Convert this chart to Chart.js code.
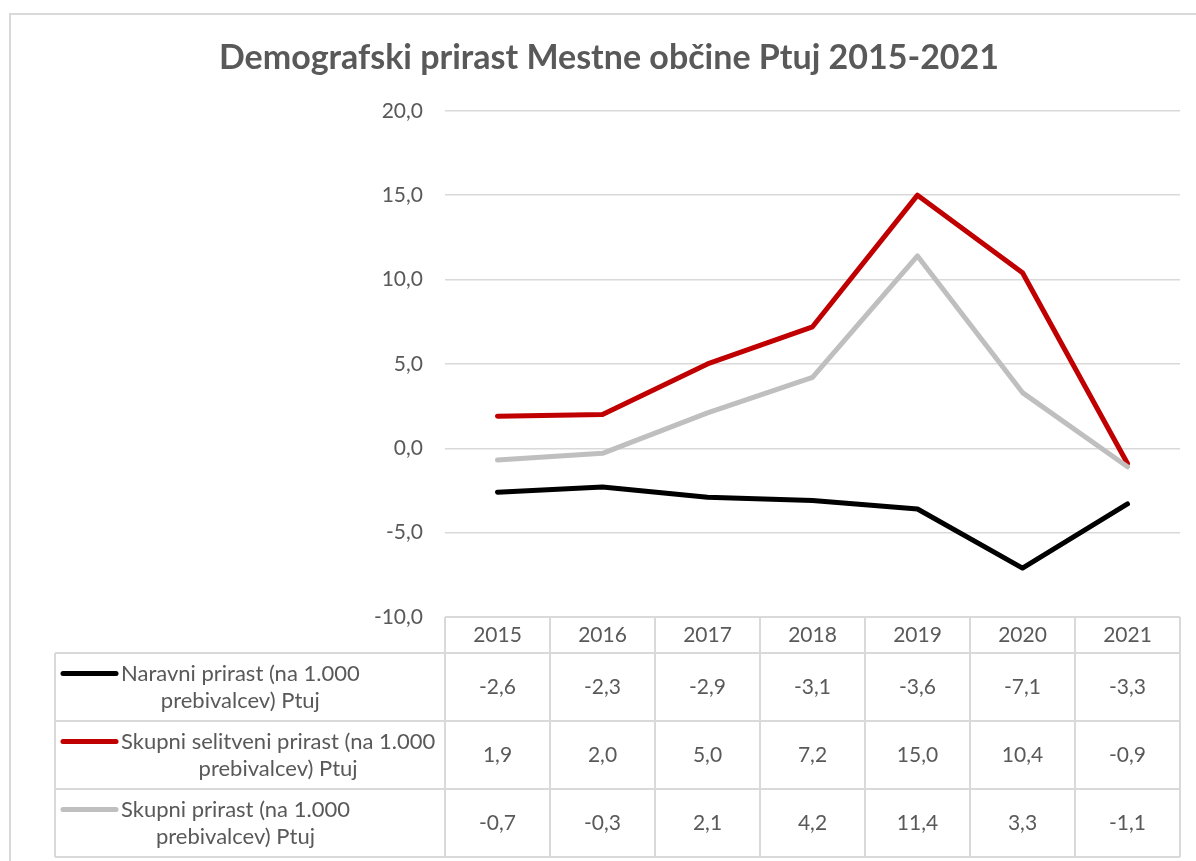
<!DOCTYPE html>
<html>
<head>
<meta charset="utf-8">
<script src="https://cdn.jsdelivr.net/npm/chart.js@4"></script>
<style>
  html, body { margin: 0; padding: 0; background: #ffffff; }
  #wrap { width: 1196px; height: 861px; position: relative; }
</style>
</head>
<body>
<div id="wrap"><canvas id="c" width="1196" height="861"></canvas></div>
<script>
const chartTitle = 'Demografski prirast Mestne občine Ptuj 2015-2021';
const years = ['2015', '2016', '2017', '2018', '2019', '2020', '2021'];
const naravniPrirast = [-2.6, -2.3, -2.9, -3.1, -3.6, -7.1, -3.3];
const selitveniPrirast = [1.9, 2.0, 5.0, 7.2, 15.0, 10.4, -0.9];
const skupniPrirast = [-0.7, -0.3, 2.1, 4.2, 11.4, 3.3, -1.1];
const seriesNames = [
  'Naravni prirast (na 1.000 prebivalcev) Ptuj',
  'Skupni selitveni prirast (na 1.000 prebivalcev) Ptuj',
  'Skupni prirast (na 1.000 prebivalcev) Ptuj'
];
const seriesNameLines = [
  ['Naravni prirast (na 1.000', 'prebivalcev) Ptuj'],
  ['Skupni selitveni prirast (na 1.000', 'prebivalcev) Ptuj'],
  ['Skupni prirast (na 1.000', 'prebivalcev) Ptuj']
];
const yTicks = { min: -10, max: 20, step: 5 };

const FONT = 'Lato, "Open Sans", "Noto Sans", sans-serif';
const TEXT = '#595959';
const GRID = '#d9d9d9';
const fmt = v => v.toFixed(1).replace('.', ',');

const frame = {
  id: 'frame',
  beforeDraw(chart) {
    const ctx = chart.ctx;
    ctx.save();
    ctx.fillStyle = '#ffffff';
    ctx.fillRect(0, 0, chart.width, chart.height);
    ctx.strokeStyle = GRID;
    ctx.lineWidth = 2;
    ctx.beginPath();
    ctx.moveTo(10, chart.height + 5);
    ctx.lineTo(10, 14);
    ctx.lineTo(chart.width + 5, 14);
    ctx.stroke();
    ctx.restore();
  }
};

const dataTable = {
  id: 'dataTable',
  afterDraw(chart) {
    const ctx = chart.ctx;
    const x = chart.scales.x;
    const area = chart.chartArea;
    const n = years.length;
    const step = (area.right - area.left) / n;
    const top = area.bottom;
    const headerH = 36;
    const rowH = 68;
    const legendLeft = 55;
    const rowsTop = top + headerH;
    const bottom = rowsTop + rowH * chart.data.datasets.length;
    ctx.save();
    ctx.strokeStyle = GRID;
    ctx.lineWidth = 2;
    ctx.beginPath();
    ctx.moveTo(area.left, top); ctx.lineTo(area.right, top);
    for (let r = 0; r <= chart.data.datasets.length; r++) {
      const y = rowsTop + r * rowH;
      ctx.moveTo(legendLeft, y); ctx.lineTo(area.right, y);
    }
    for (let i = 0; i <= n; i++) {
      const px = i < n ? x.getPixelForValue(i) - step / 2 : x.getPixelForValue(n - 1) + step / 2;
      ctx.moveTo(px, top); ctx.lineTo(px, bottom);
    }
    ctx.moveTo(legendLeft, rowsTop); ctx.lineTo(legendLeft, bottom);
    ctx.stroke();

    ctx.fillStyle = TEXT;
    ctx.font = '21px ' + FONT;
    ctx.textAlign = 'center';
    ctx.textBaseline = 'middle';
    years.forEach((yr, i) => {
      ctx.fillText(yr, x.getPixelForValue(i), top + headerH / 2);
    });
    [0, 1, 2].forEach((d, r) => {
      const ds = chart.data.datasets[d];
      const cy = rowsTop + r * rowH + rowH / 2;
      ctx.font = '21px ' + FONT;
      ds.data.forEach((v, i) => {
        ctx.fillStyle = TEXT;
        ctx.fillText(fmt(v), x.getPixelForValue(i), cy);
      });
      const lines = seriesNameLines[d];
      const lh = 27;
      const y1 = cy - lh / 2;
      ctx.strokeStyle = ds.borderColor;
      ctx.lineWidth = 5;
      ctx.lineCap = 'round';
      ctx.beginPath();
      ctx.moveTo(63, y1); ctx.lineTo(116, y1);
      ctx.stroke();
      ctx.font = '22px ' + FONT;
      const widths = lines.map(l => ctx.measureText(l).width);
      const blockW = Math.max(...widths);
      ctx.fillStyle = TEXT;
      lines.forEach((l, k) => {
        ctx.fillText(l, 121 + blockW / 2, y1 + k * lh);
      });
    });
    ctx.restore();
  }
};

new Chart(document.getElementById('c'), {
  type: 'line',
  data: {
    labels: years,
    datasets: [
      { label: seriesNames[0], data: naravniPrirast, borderColor: '#000000', backgroundColor: '#000000', order: 3 },
      { label: seriesNames[1], data: selitveniPrirast, borderColor: '#c00000', backgroundColor: '#c00000', order: 2 },
      { label: seriesNames[2], data: skupniPrirast, borderColor: '#bfbfbf', backgroundColor: '#bfbfbf', order: 1 }
    ]
  },
  options: {
    responsive: false,
    animation: false,
    devicePixelRatio: 1,
    layout: { padding: { left: 38, right: 16, top: 0, bottom: 244 } },
    elements: {
      line: { borderWidth: 5, borderCapStyle: 'round', borderJoinStyle: 'round', tension: 0 },
      point: { radius: 0, hoverRadius: 0 }
    },
    plugins: {
      legend: { display: false },
      tooltip: { enabled: false },
      title: {
        display: true,
        text: chartTitle,
        color: TEXT,
        font: { family: FONT, size: 34, weight: 'bold' },
        padding: { top: 38, bottom: 32 }
      }
    },
    scales: {
      x: {
        type: 'category',
        offset: true,
        display: false
      },
      y: {
        min: yTicks.min,
        max: yTicks.max,
        afterFit(scale) { scale.width = 407; },
        border: { display: false },
        grid: { color: GRID, lineWidth: 1.5, drawTicks: false },
        ticks: {
          stepSize: yTicks.step,
          padding: 22,
          color: TEXT,
          font: { family: FONT, size: 21 },
          callback: v => fmt(v)
        }
      }
    }
  },
  plugins: [frame, dataTable]
});
</script>
</body>
</html>
